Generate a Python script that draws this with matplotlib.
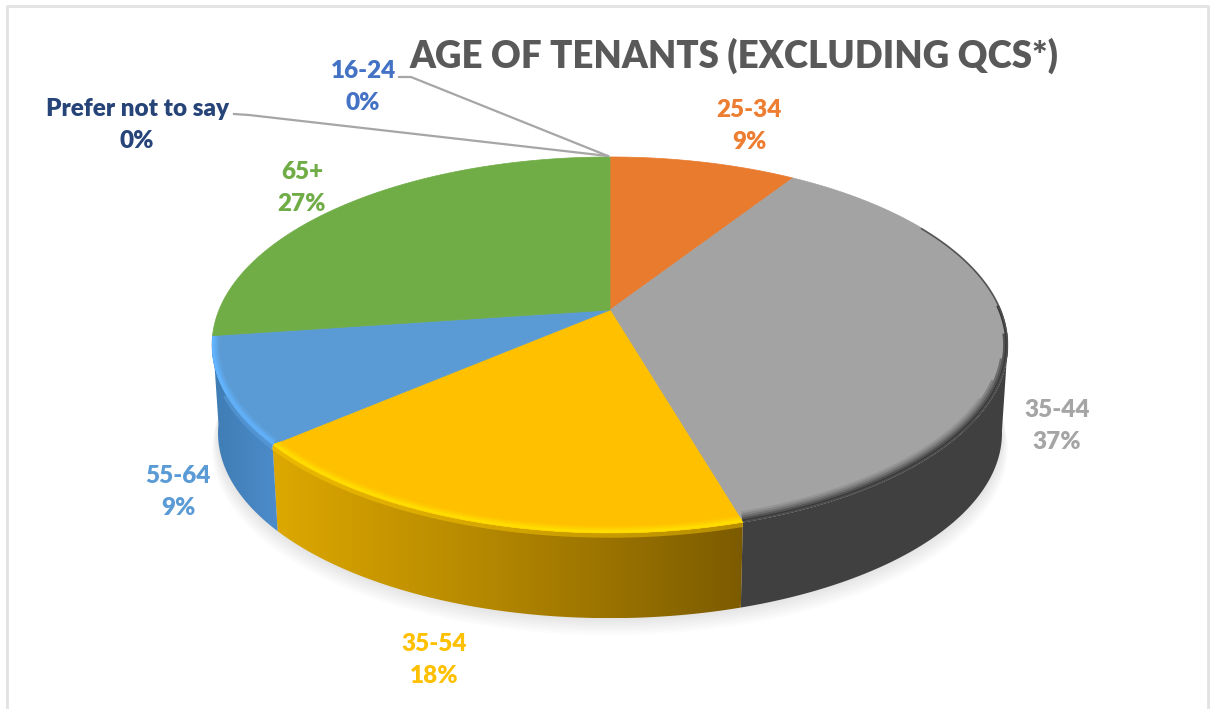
import numpy as np
import matplotlib
matplotlib.use('Agg')
import matplotlib.pyplot as plt
from matplotlib.colors import LinearSegmentedColormap, to_rgb
from matplotlib.patches import Polygon

plt.rcParams['font.family'] = ['Lato', 'DejaVu Sans']

categories = ['16-24', '25-34', '35-44', '35-54', '55-64', '65+', 'Prefer not to say']
values = [0, 9.1, 36.4, 18.2, 9.1, 27.2, 0]
percent_labels = ['0%', '9%', '37%', '18%', '9%', '27%', '0%']
colors = ['#4472C4', '#E97B2E', '#A3A3A3', '#FFC000', '#5B9BD5', '#70AD47', '#264478']
text_colors = ['#4472C4', '#ED7D31', '#A5A5A5', '#FFC000', '#5B9BD5', '#70AD47', '#264478']
wall_colors = {
    '35-44': ['#404040', '#404040'],
    '35-54': ['#DDA800', '#B08400', '#7C5B00'],
    '55-64': ['#3F7CB4', '#4D8CCB'],
}
rim_colors = {'35-44': '#3A3A3A', '35-54': '#FFE000', '55-64': '#62B4FF'}
label_pos = [(363, 71), (749, 110), (1057, 410), (434, 644), (178, 476), (302, 172), (137, 109)]


def top_face(theta):
    # perspective projection of the unit circle, theta clockwise from the top
    u, v = np.sin(theta), np.cos(theta)
    d = 1 + 0.186 * v
    return 610 + 391 * u / d, 310 - 181.5 * v / d


def bottom_face(theta):
    x, y = top_face(theta)
    return 610 + (x - 610) * 0.985, 345 + (y - 345) * 0.985 + 88


fig = plt.figure(figsize=(12.12, 7.09), dpi=100)
ax = fig.add_axes([0, 0, 1, 1])

# frame
ax.plot([7, 7, 1208, 1208], [709, 6, 6, 709], color='#E2E2E2', lw=2)

# soft shadow under the pie
t = np.linspace(np.radians(90), np.radians(270), 200)
sx, sy = bottom_face(t)
for w in np.linspace(1, 17, 9):
    pts = np.column_stack([sx + w * 0.35 * np.sin(t), sy + w])
    pts = np.vstack([pts, [[610, 300]]])
    ax.add_patch(Polygon(pts, fc='#808080', ec='none', alpha=0.022, zorder=1))

edges = np.radians(np.cumsum([0] + values) * 3.6)
front_start, front_end = np.radians(100), np.radians(262)

# side walls
for i, cat in enumerate(categories):
    if cat not in wall_colors:
        continue
    a0, a1 = max(edges[i], front_start), min(edges[i + 1], front_end)
    t = np.linspace(a0, a1, 120)
    x0, y0 = top_face(t)
    x1, y1 = bottom_face(t)
    pts = np.vstack([np.column_stack([x0, y0]), np.column_stack([x1, y1])[::-1]])
    poly = Polygon(pts, fc='none', ec='none', zorder=2)
    ax.add_patch(poly)
    cmap = LinearSegmentedColormap.from_list(cat, wall_colors[cat])
    im = ax.imshow(np.linspace(0, 1, 256).reshape(1, -1), cmap=cmap, aspect='auto',
                   extent=[pts[:, 0].min(), pts[:, 0].max(), pts[:, 1].max(), pts[:, 1].min()],
                   zorder=2)
    im.set_clip_path(poly)

# top face slices
for i, cat in enumerate(categories):
    if values[i] == 0:
        continue
    t = np.linspace(edges[i], edges[i + 1], 300)
    x, y = top_face(t)
    pts = np.vstack([[[610, 310]], np.column_stack([x, y])])
    poly = Polygon(pts, fc=colors[i], ec=colors[i], lw=0.5, zorder=3)
    ax.add_patch(poly)

    # bevel along the outer edge, widening as the edge turns to the viewer
    if cat in rim_colors:
        base = np.array(to_rgb(colors[i]))
        rim = np.array(to_rgb(rim_colors[cat]))
        if cat == '35-44':
            widths = [16, 13, 10, 7, 4, 2]
            starts = [118, 112, 105, 97, 88, 60]
            mixes = [0.12, 0.3, 0.5, 0.75, 1.0, 0.8]
        else:
            widths = [11, 9, 7, 5, 3]
            starts = [0, 0, 0, 0, 0]
            mixes = [0.12, 0.3, 0.5, 0.75, 1.0]
        for lw, start, mix in zip(widths, starts, mixes):
            keep = (t > np.radians(start)) & (t < np.radians(262))
            line, = ax.plot(x[keep], y[keep], color=base + (rim - base) * mix, lw=lw, zorder=4,
                            solid_capstyle='butt')
            line.set_clip_path(poly)
        if cat != '35-44':
            # glow spilling onto the wall below the rim
            keep = t < np.radians(245)
            ax.plot(x[keep], y[keep] + 2, color=base + (rim - base) * 0.4, lw=4, alpha=0.45,
                    zorder=4, solid_capstyle='butt')

# leader lines for the empty slices
ax.plot([399, 411, 608], [77, 77, 156], color='#A6A6A6', lw=1.6, zorder=5)
ax.plot([234, 249, 608], [114, 115, 156], color='#A6A6A6', lw=1.6, zorder=5)

for i, cat in enumerate(categories):
    lx, ly = label_pos[i]
    ax.text(lx, ly, cat, color=text_colors[i], fontsize=17.5, fontweight='heavy',
            ha='center', va='center', zorder=6)
    ax.text(lx, ly + 32, percent_labels[i], color=text_colors[i], fontsize=17.5, fontweight='heavy',
            ha='center', va='center', zorder=6)

ax.text(734, 56, 'AGE OF TENANTS (EXCLUDING QCS*)', color='#595959', fontsize=26.4,
        fontweight='heavy', ha='center', va='center', zorder=6)

ax.set_xlim(0, 1212)
ax.set_ylim(709, 0)
ax.axis('off')

plt.savefig('out.png', dpi=100)
